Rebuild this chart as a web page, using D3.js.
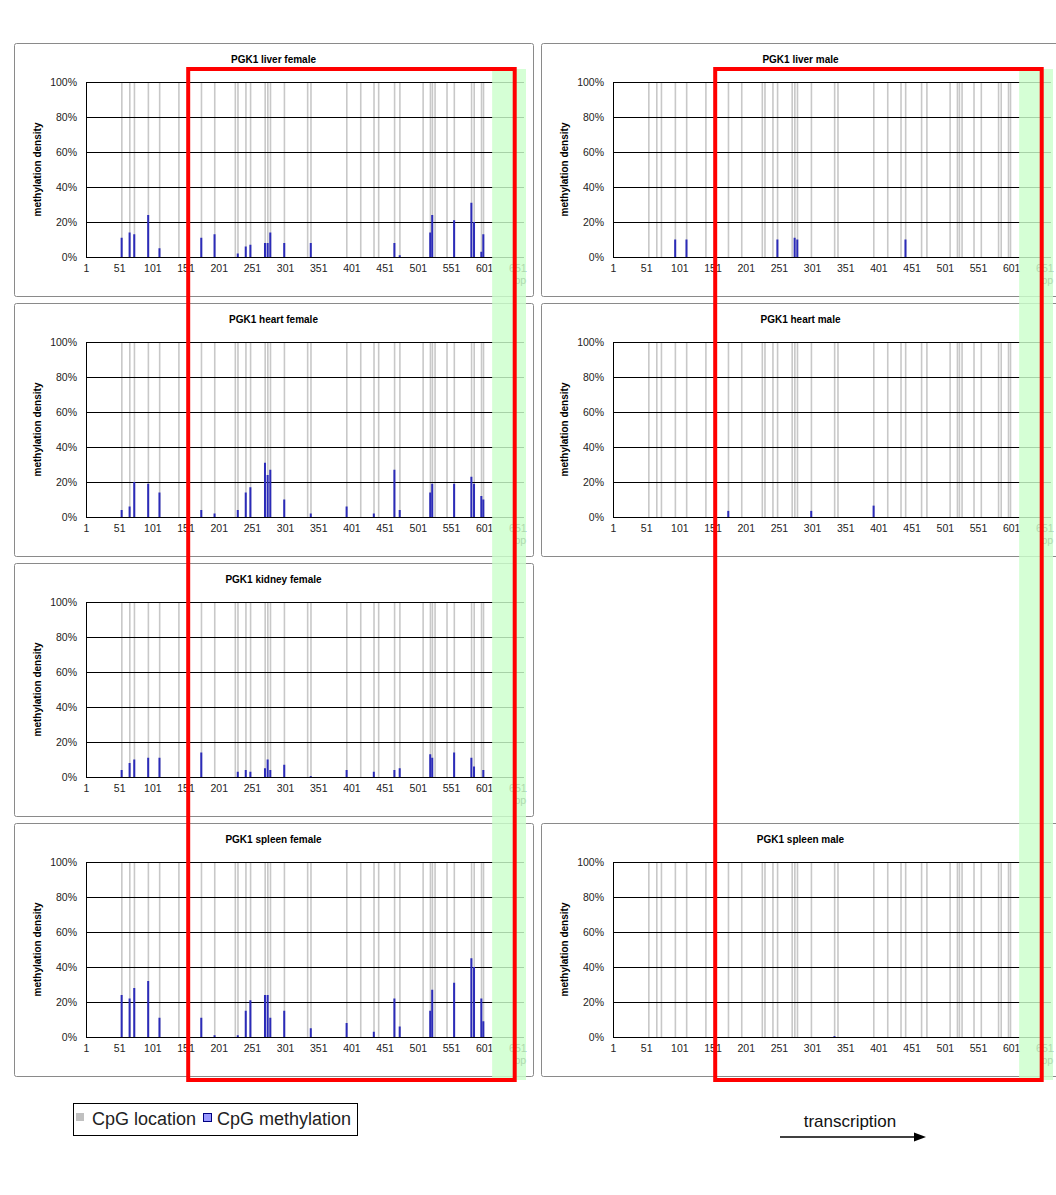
<!DOCTYPE html>
<html>
<head>
<meta charset="utf-8">
<script src="https://cdn.jsdelivr.net/npm/d3@7"></script>
<style>
  body { margin: 0; background: #fff; }
  text { font-family: "Liberation Sans", Arial, sans-serif; }
</style>
</head>
<body>
<div id="chart"></div>
<script>
// CpG positions (bp) along the PGK1 fragment
var cpgSites = [55, 67, 74, 95, 112, 141, 175, 195, 226, 230, 242, 249, 271, 275, 279, 300, 335, 340,
                394, 415, 435, 442, 466, 474, 509, 520, 523, 527, 545, 556, 582, 586, 597, 600];

// methylation density (%) at each CpG site, same order as cpgSites
var liverFemale  = [11, 14, 13, 24, 5, 0, 11, 13, 0, 2, 6, 7, 8, 8, 14, 8, 0, 8,
                    0, 0, 0, 0, 8, 1, 0, 14, 24, 0, 0, 21, 31, 20, 3, 13];
var heartFemale  = [4, 6, 20, 19, 14, 0, 4, 2, 0, 4, 14, 17, 31, 24, 27, 10, 0, 2,
                    6, 0, 2, 0, 27, 4, 0, 14, 19, 0, 0, 19, 23, 19, 12, 10];
var kidneyFemale = [4, 8, 10, 11, 11, 0, 14, 0, 0, 3, 4, 3, 5, 10, 4, 7, 0, 0.5,
                    4, 0, 3, 0, 4, 5, 0, 13, 11, 0, 0, 14, 11, 6, 0, 4];
var spleenFemale = [24, 22, 28, 32, 11, 0, 11, 1, 0, 1, 15, 21, 24, 24, 11, 15, 0, 5,
                    8, 0, 3, 0, 22, 6, 0, 15, 27, 0, 0, 31, 45, 40, 22, 9];
var liverMale    = [0, 0, 0, 10, 10, 0, 0, 0, 0, 0, 0, 10, 0, 11, 10, 0, 0, 0,
                    0, 0, 0, 10, 0, 0, 0, 0, 0, 0, 0, 0, 0, 0, 0, 0];
var heartMale    = [0, 0, 0, 0, 0, 0, 3.5, 0, 0, 0, 0, 0, 0, 0, 0, 3.5, 0, 0,
                    6.5, 0, 0, 0, 0, 0, 0, 0, 0, 0, 0, 0, 0, 0, 0, 0];
var spleenMale   = [0, 0, 0, 0, 0, 0, 0, 0, 0, 0, 0, 0, 0, 0, 0, 0, 0.5, 0,
                    0, 0, 0, 0, 0, 0, 0, 0, 0, 0, 0, 0, 0, 0, 0, 0];

var xTicks = d3.range(1, 652, 50);         // 1, 51, ... 651
var yTicks = [0, 20, 40, 60, 80, 100];

// highlighted regions in bp
var boxRegion = [155, 647];       // red frame
var greenRegion = [613, 664];     // shaded band

var panels = [
  { title: "PGK1 liver female",  col: 0, row: 0, values: liverFemale },
  { title: "PGK1 liver male",    col: 1, row: 0, values: liverMale },
  { title: "PGK1 heart female",  col: 0, row: 1, values: heartFemale },
  { title: "PGK1 heart male",    col: 1, row: 1, values: heartMale },
  { title: "PGK1 kidney female", col: 0, row: 2, values: kidneyFemale },
  { title: "PGK1 spleen female", col: 0, row: 3, values: spleenFemale },
  { title: "PGK1 spleen male",   col: 1, row: 3, values: spleenMale }
];

var W = 1056, H = 1195;
var panelLeft = [14, 541], panelW = 519, panelH = 253, rowStep = 260, firstTop = 43;
var plotOffX = 72, plotW = 438, plotOffTop = 39, plotOffBottom = 214;

var svg = d3.select("#chart").append("svg")
    .attr("width", W).attr("height", H);

var xScales = [];

panels.forEach(function (p) {
  var left = panelLeft[p.col], top = firstTop + p.row * rowStep;
  var g = svg.append("g");

  g.append("rect")
    .attr("x", left + 0.5).attr("y", top + 0.5)
    .attr("width", panelW).attr("height", panelH)
    .attr("rx", 2)
    .attr("fill", "#fff").attr("stroke", "#8a8a8a");

  var x = d3.scaleLinear().domain([1, 661]).range([left + plotOffX, left + plotOffX + plotW]);
  var y = d3.scaleLinear().domain([0, 100]).range([top + plotOffBottom, top + plotOffTop]);
  xScales[p.col] = x;

  // title
  g.append("text")
    .attr("x", left + panelW / 2).attr("y", top + 20)
    .attr("text-anchor", "middle")
    .attr("font-size", 10).attr("font-weight", "bold")
    .text(p.title);

  // y axis title
  g.append("text")
    .attr("transform", "translate(" + (left + 27) + "," + ((y(0) + y(100)) / 2) + ") rotate(-90)")
    .attr("text-anchor", "middle")
    .attr("font-size", 10).attr("font-weight", "bold")
    .text("methylation density");

  // CpG location bars (full height, grey)
  g.selectAll(".cpg")
    .data(cpgSites)
    .enter().append("line")
    .attr("class", "cpg")
    .attr("x1", function (d) { return x(d); })
    .attr("x2", function (d) { return x(d); })
    .attr("y1", y(0)).attr("y2", y(100))
    .attr("stroke", "#c8c8c8").attr("stroke-width", 1.6);

  // gridlines
  g.selectAll(".grid")
    .data(yTicks)
    .enter().append("line")
    .attr("class", "grid")
    .attr("x1", x(1)).attr("x2", x(661))
    .attr("y1", function (d) { return Math.round(y(d)) + 0.5; })
    .attr("y2", function (d) { return Math.round(y(d)) + 0.5; })
    .attr("stroke", "#000").attr("stroke-width", 1);

  // methylation bars
  var meth = cpgSites.map(function (s, i) { return { site: s, v: p.values[i] }; })
    .filter(function (d) { return d.v > 0; });
  g.selectAll(".meth")
    .data(meth)
    .enter().append("rect")
    .attr("class", "meth")
    .attr("x", function (d) { return x(d.site) - 1.2; })
    .attr("width", 2)
    .attr("y", function (d) { return y(d.v); })
    .attr("height", function (d) { return y(0) - y(d.v); })
    .attr("fill", "#2b2bb8");

  // y axis
  var yAxis = g.append("g")
    .attr("transform", "translate(" + x(1) + ",0)")
    .call(d3.axisLeft(y).tickValues(yTicks).tickSize(0).tickPadding(9)
      .tickFormat(function (d) { return d + "%"; }));
  yAxis.select(".domain").attr("stroke", "#000");
  yAxis.selectAll("text").attr("font-size", 10.5).attr("fill", "#222")
    .style("font-family", "'Liberation Sans', Arial, sans-serif");

  // x axis
  var xAxis = g.append("g")
    .attr("transform", "translate(0," + y(0) + ")")
    .call(d3.axisBottom(x).tickValues(xTicks).tickSize(0).tickPadding(8)
      .tickFormat(d3.format("d")));
  xAxis.select(".domain").remove();
  xAxis.selectAll("text").attr("font-size", 10.5).attr("fill", "#222")
    .style("font-family", "'Liberation Sans', Arial, sans-serif");

  g.append("text")
    .attr("x", x(651) + 3).attr("y", y(0) + 27)
    .attr("text-anchor", "middle")
    .attr("font-size", 10.5).attr("fill", "#222")
    .text("bp");
});

// overlays: green band and red frame spanning all rows
var overlayTop = 69, overlayBottom = 1080;
[0, 1].forEach(function (c) {
  var x = xScales[c];
  svg.append("rect")
    .attr("x", x(greenRegion[0])).attr("y", overlayTop)
    .attr("width", x(greenRegion[1]) - x(greenRegion[0]))
    .attr("height", overlayBottom - overlayTop)
    .attr("fill", "#ccffcc").attr("opacity", 0.82);
});
[0, 1].forEach(function (c) {
  var x = xScales[c];
  svg.append("rect")
    .attr("x", x(boxRegion[0])).attr("y", overlayTop)
    .attr("width", x(boxRegion[1]) - x(boxRegion[0]))
    .attr("height", overlayBottom - overlayTop)
    .attr("fill", "none").attr("stroke", "#ff0000").attr("stroke-width", 4);
});

// legend
var legend = svg.append("g");
legend.append("rect")
  .attr("x", 73.5).attr("y", 1103.5).attr("width", 284).attr("height", 32)
  .attr("fill", "#fff").attr("stroke", "#000");
legend.append("rect")
  .attr("x", 76).attr("y", 1113).attr("width", 8).attr("height", 8)
  .attr("fill", "#c0c0c0");
legend.append("text")
  .attr("x", 92).attr("y", 1125).attr("font-size", 18).attr("fill", "#222")
  .text("CpG location");
legend.append("rect")
  .attr("x", 203.5).attr("y", 1113.5).attr("width", 8).attr("height", 8)
  .attr("fill", "#9999ff").attr("stroke", "#000080");
legend.append("text")
  .attr("x", 217).attr("y", 1125).attr("font-size", 18).attr("fill", "#222")
  .text("CpG methylation");

// transcription arrow
svg.append("text")
  .attr("x", 850).attr("y", 1127).attr("text-anchor", "middle")
  .attr("font-size", 17).attr("fill", "#111")
  .text("transcription");
svg.append("line")
  .attr("x1", 780).attr("x2", 916).attr("y1", 1137).attr("y2", 1137)
  .attr("stroke", "#000").attr("stroke-width", 1.3);
svg.append("path")
  .attr("d", "M914,1132.5 L926,1137 L914,1141.5 Z")
  .attr("fill", "#000");
</script>
</body>
</html>
